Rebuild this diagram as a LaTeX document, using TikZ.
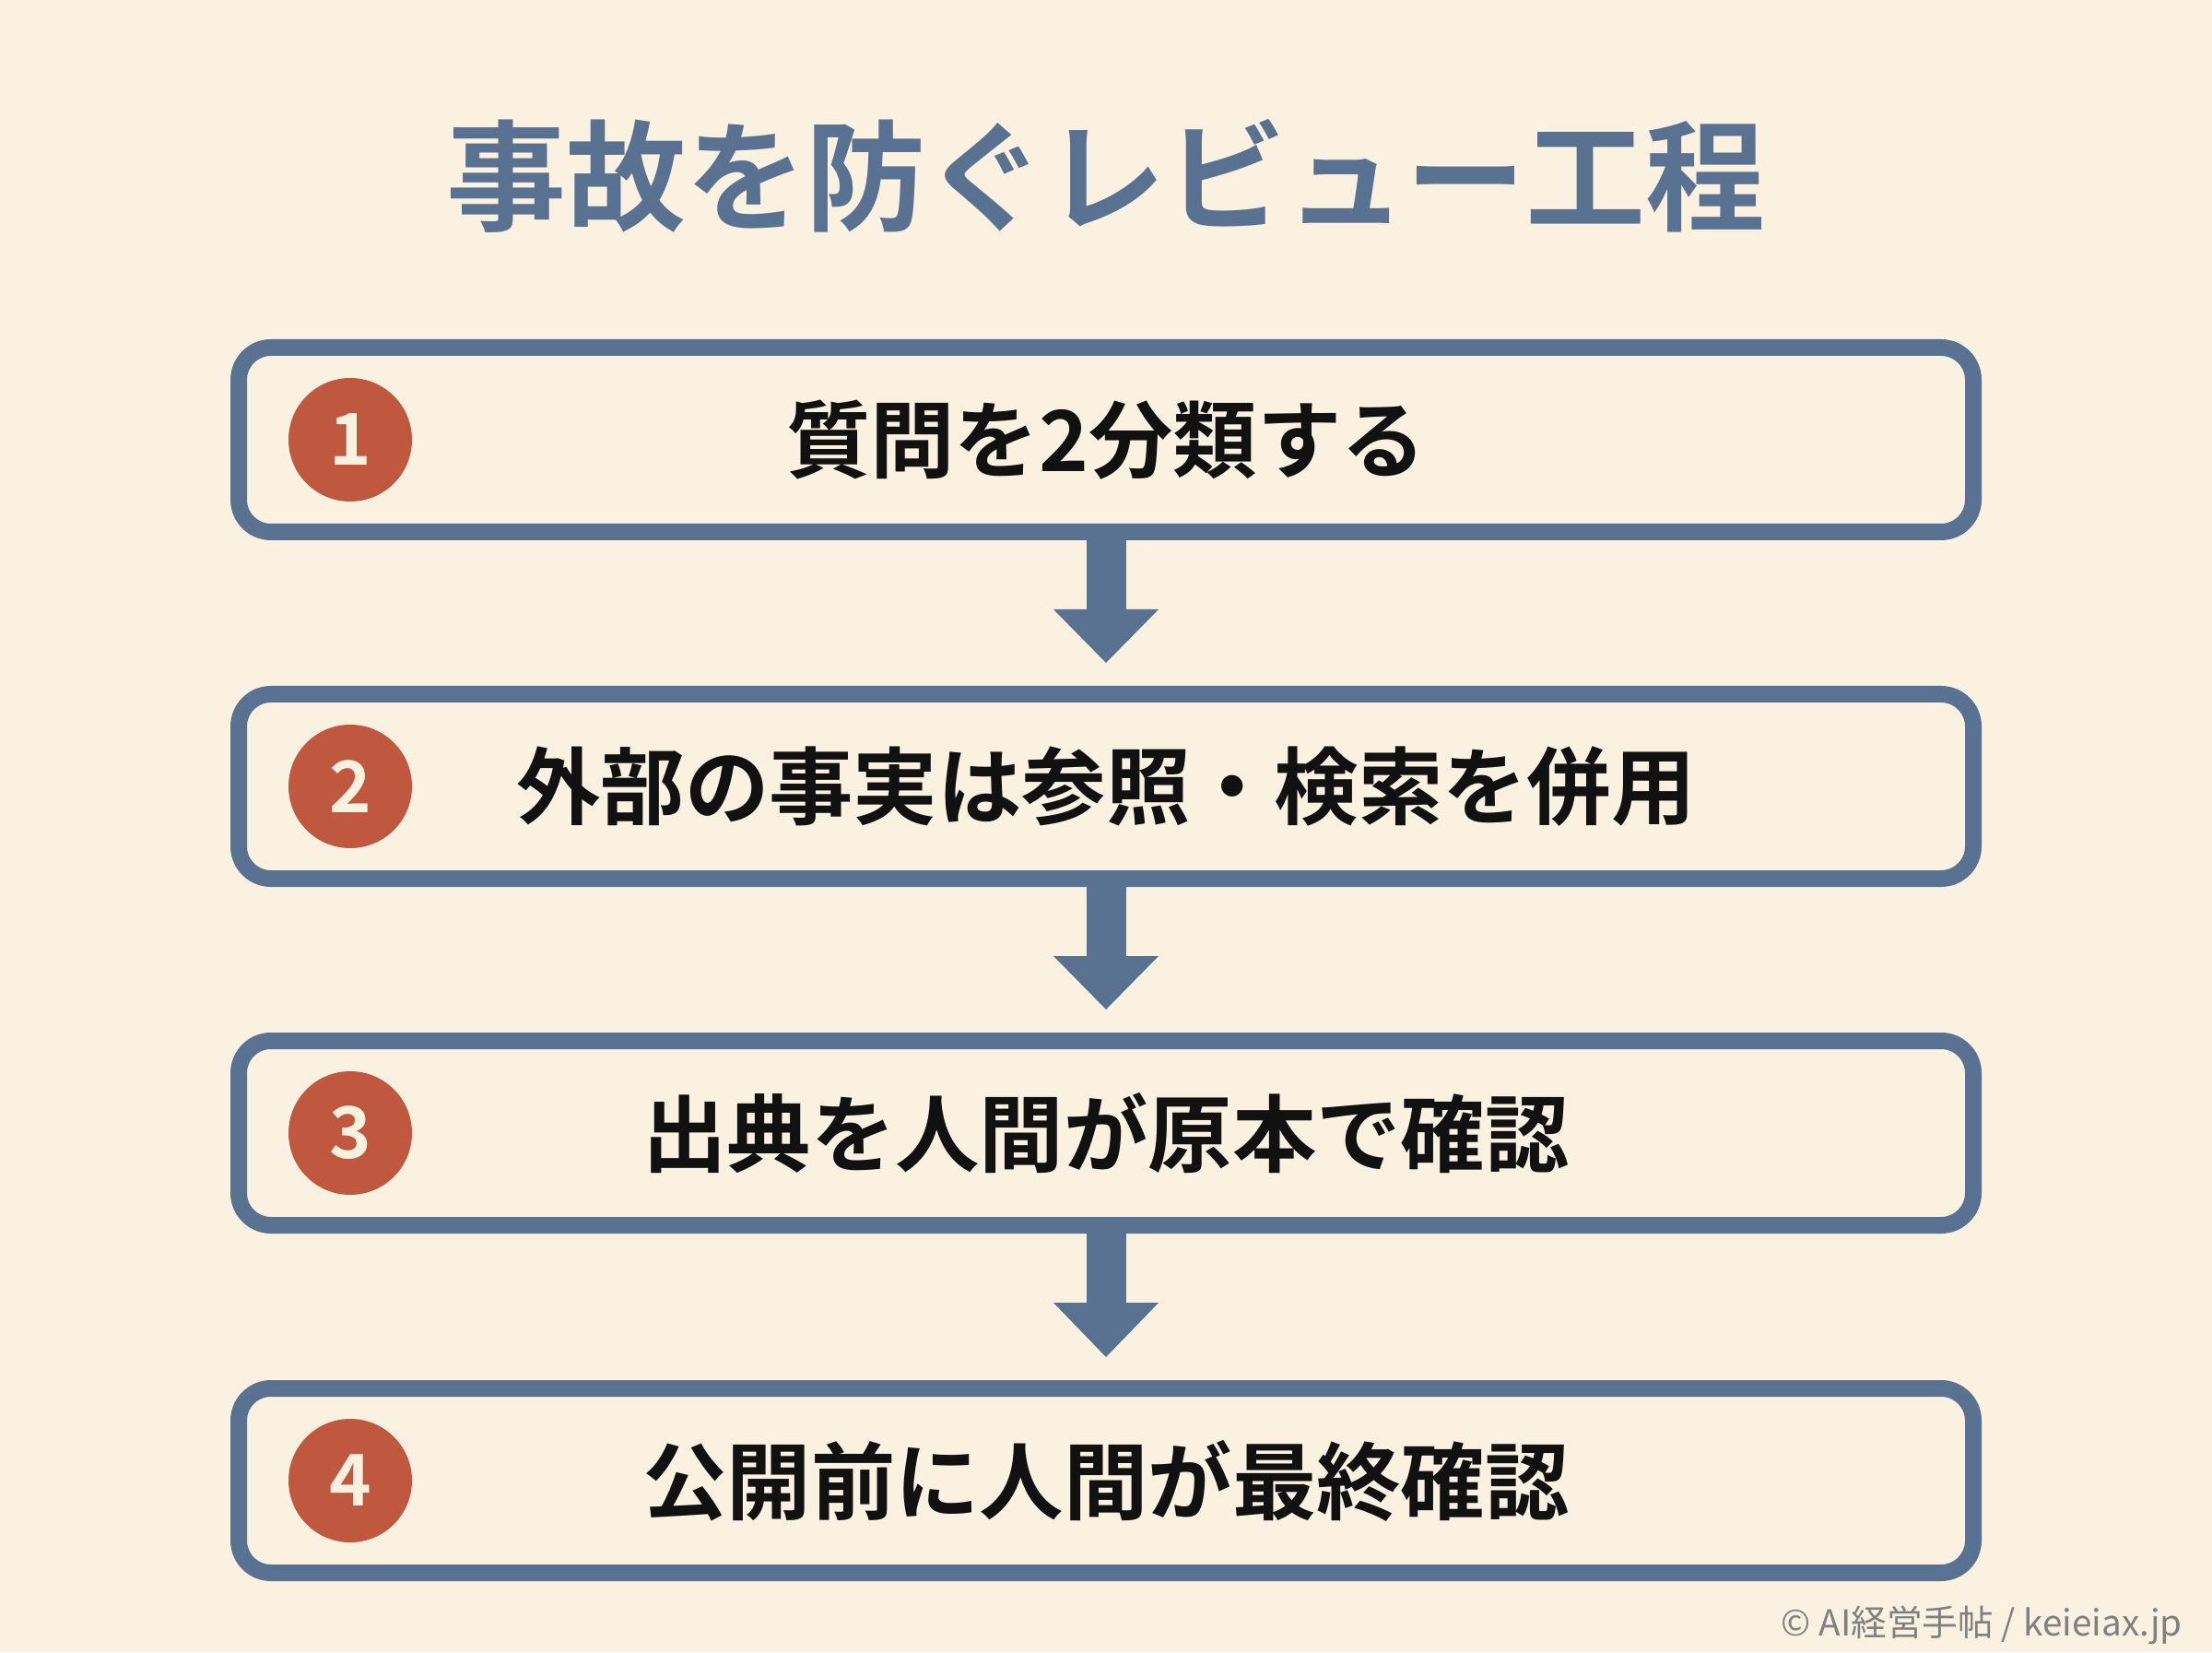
\documentclass[tikz,border=0pt]{standalone}
\usepackage{fontspec}
\usetikzlibrary{calc}
\newfontfamily\jp{Noto Sans CJK JP}
\newfontfamily\jpb{Noto Sans CJK JP Bold}
\definecolor{bg}{HTML}{FBF1E0}
\definecolor{frame}{HTML}{5A7291}
\definecolor{badge}{HTML}{C0583F}
\definecolor{ink}{HTML}{111111}
\tikzset{
 stepbox/.style={draw=frame,line width=0.18cm,rounded corners=0.35cm,fill=bg,minimum width=18.82cm,minimum height=2.0cm,inner sep=0},
 badgenode/.style={circle,fill=badge,minimum size=1.34cm,inner sep=0,text=bg,font=\jpb\fontsize{22}{22}\selectfont},
 label/.style={text=ink,font=\jpb\fontsize{26}{30}\selectfont},
 flowarrow/.style={draw=none,fill=frame}
}
\begin{document}
\begin{tikzpicture}[x=1cm,y=1cm]
\fill[bg] (0,0) rectangle (24,17.92);
\useasboundingbox (0,0) rectangle (24,17.92);
\node[text=frame,font=\jpb\fontsize{37}{40}\selectfont] (title) at (12,16.01) {事故を防ぐレビュー工程};
\foreach \i/\y/\t in {1/13.15/質問を2分類する,2/9.39/外部の事実は参照・検索を併用,3/5.63/出典を人間が原本で確認,4/1.86/公開前に人間が最終確認}{
 \node[stepbox] (b\i) at (12,\y) {};
 \node[badgenode] (n\i) at (3.8,\y) {\i};
 \node[label] (t\i) at (12,\y) {\t};
}
\foreach \a/\b in {b1/b2,b2/b3,b3/b4}{
 \path (\a.south) coordinate (s) (\b.north) coordinate (e);
 \fill[frame] ($(s)+(-0.215,0)$) rectangle ($(s)+(0.215,-0.75)$);
 \fill[frame] ($(s)+(-0.57,-0.75)$) -- ($(s)+(0.57,-0.75)$) -- ($(e)+(0,0.25)$) -- cycle;
}
\node[anchor=east,text=gray,font=\jp\fontsize{11}{12}\selectfont] (foot) at (23.8,0.29) {© AI経営手帖 / keieiax.jp};
\end{tikzpicture}
\end{document}
